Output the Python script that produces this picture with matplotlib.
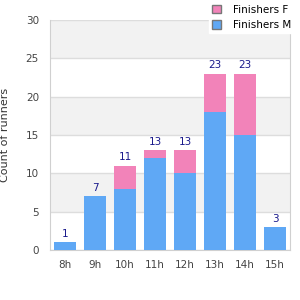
import numpy as np
import matplotlib.pyplot as plt
from matplotlib.patches import Patch

hours = ["8h", "9h", "10h", "11h", "12h", "13h", "14h", "15h"]
male = [1, 7, 8, 12, 10, 18, 15, 3]
female = [0, 0, 3, 1, 3, 5, 8, 0]

blue = "#5fa8f5"
pink = "#f283b9"

fig = plt.figure(figsize=(3, 3), dpi=100)
ax = fig.add_axes([50/300, 50/300, 240/300, 230/300])

x = np.arange(len(hours))
ax.bar(x, male, width=0.73, color=blue, zorder=3)
ax.bar(x, female, width=0.73, bottom=male, color=pink, zorder=3)

totals = [m + f for m, f in zip(male, female)]
for xi, t in zip(x, totals):
    ax.text(xi, t + 0.45, str(t), ha="center", va="bottom", fontsize=7.5, color="#1a1a8c", zorder=4)

ax.set_xlim(-0.5, len(hours) - 0.5)
ax.set_ylim(0, 30)
for lo in range(5, 30, 10):
    ax.axhspan(lo, lo + 5, color="#f2f2f2", zorder=0, lw=0)
ax.set_yticks(range(0, 31, 5))
ax.yaxis.grid(True, color="#dddddd", lw=1, zorder=1)
ax.set_xticks(x)
ax.set_xticklabels(hours)
ax.tick_params(length=0, labelsize=7.5, colors="#444444", pad=8)
ax.tick_params(axis="x", pad=7)
ax.spines["top"].set_visible(False)
for s in ["left", "bottom", "right"]:
    ax.spines[s].set_color("#d0d0d0")
ax.set_ylabel("Count of runners", fontsize=8, color="#333333", labelpad=11)

handles = [Patch(facecolor=pink, edgecolor="#777777", label="Finishers F"),
           Patch(facecolor=blue, edgecolor="#777777", label="Finishers M")]
fig.legend(handles=handles, loc="upper right", bbox_to_anchor=(0.985, 1.0), fontsize=7.5,
           frameon=True, fancybox=False, edgecolor="white", framealpha=1,
           handlelength=0.9, handleheight=0.9, handletextpad=1.1,
           borderpad=0.25, labelspacing=0.5, borderaxespad=0.2)

fig.savefig("out.png", dpi=100)
